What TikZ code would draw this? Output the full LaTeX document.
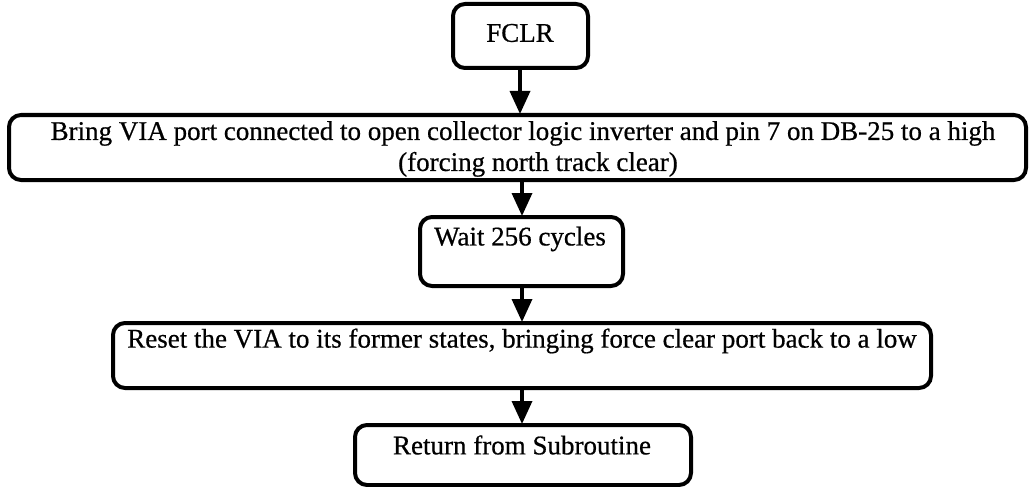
\documentclass[tikz,border=0pt]{standalone}
\usepackage{fontspec}
\setmainfont[FakeBold=0.6]{Liberation Serif}
\usetikzlibrary{arrows.meta}
\begin{document}
\begin{tikzpicture}[x=1pt,y=-1pt,
  box/.style={draw, line width=4pt, rounded corners=12pt, inner sep=0pt},
  txt/.style={font=\fontsize{27}{31}\selectfont, inner sep=0pt, align=center},
  flow/.style={line width=3.5pt, -{Triangle[length=23pt,width=20pt]}, shorten >=-1pt}]
\useasboundingbox (0,0) rectangle (1029,487);
% boxes, given by their corners
\node[box, minimum width=135pt, minimum height=64pt] (fclr) at (520.5,36) {};
\node[box, minimum width=1017pt, minimum height=65pt] (bring) at (517.5,147.5) {};
\node[box, minimum width=203pt, minimum height=69pt] (wait) at (521.5,251.5) {};
\node[box, minimum width=818pt, minimum height=65pt] (reset) at (522,355.5) {};
\node[box, minimum width=336pt, minimum height=60pt] (ret) at (523,455) {};
% captions
\node[txt] at (520,33) {FCLR};
\node[txt] at (523,149) {Bring VIA port connected to open collector logic inverter and pin 7 on DB-25 to a high\\\hspace*{30pt}(forcing north track clear)};
\node[txt] at (520,239) {Wait 256 cycles};
\node[txt] at (522,341) {Reset the VIA to its former states, bringing force clear port back to a low};
\node[txt] at (522,445) {Return from Subroutine};
% connectors
\draw[flow] (fclr.south -| 520,0) -- (bring.north -| 520,0);
\draw[flow] (bring.south -| 522,0) -- (wait.north -| 522,0);
\draw[flow] (wait.south -| 522,0) -- (reset.north -| 522,0);
\draw[flow] (reset.south -| 522,0) -- (ret.north -| 522,0);
\end{tikzpicture}
\end{document}
